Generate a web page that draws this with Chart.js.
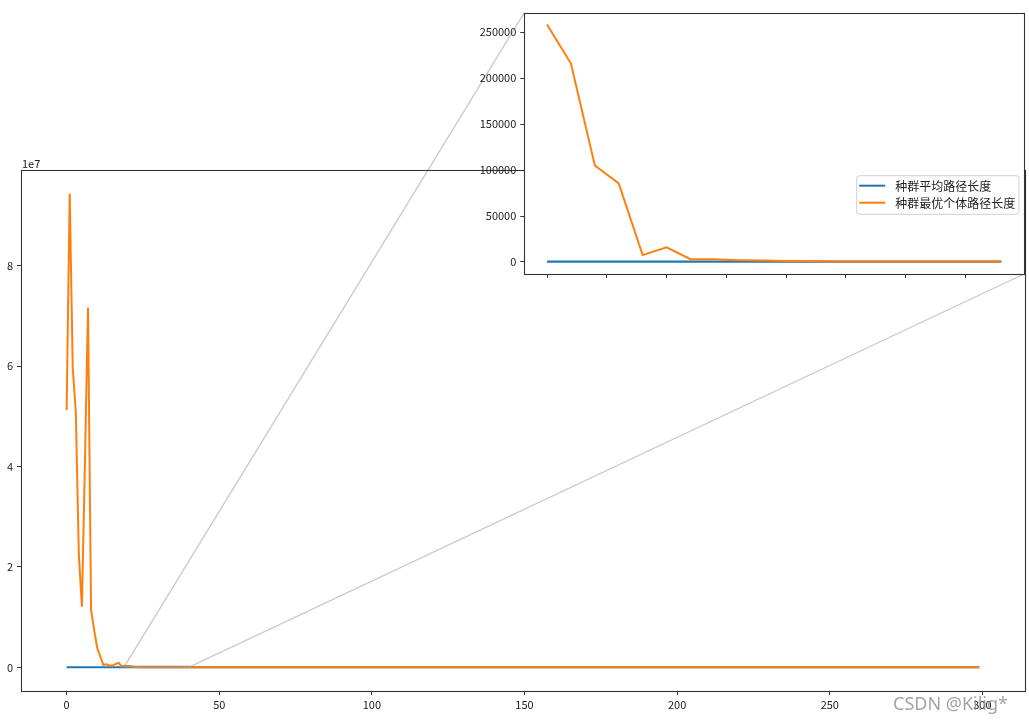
<!DOCTYPE html>
<html>
<head>
<meta charset="utf-8">
<script src="https://cdn.jsdelivr.net/npm/chart.js@4/dist/chart.umd.min.js"></script>
<style>
  html, body { margin: 0; padding: 0; background: #fff; }
  #wrap { position: relative; width: 1029px; height: 724px; overflow: hidden; }
  #mainCanvas { position: absolute; left: 0; top: 0; }
  #insetCanvas { position: absolute; left: 460px; top: 0; }
  #wm { position: absolute; left: 893px; top: 691px; font: 18px 'Noto Sans', 'DejaVu Sans', sans-serif; color: rgba(140,140,140,0.8); white-space: nowrap; }
</style>
</head>
<body>
<div id="wrap">
  <canvas id="mainCanvas" width="1029" height="724"></canvas>
  <canvas id="insetCanvas" width="569" height="300"></canvas>
  <div id="wm">CSDN @Kilig*</div>
</div>
<script>
// ---------------- data ----------------
const seriesNames = ['种群平均路径长度', '种群最优个体路径长度'];
// iteration numbers (the flat tail after 39 is drawn to the last iteration 299)
const iterations = [0,1,2,3,4,5,6,7,8,9,10,11,12,13,14,15,16,17,18,19,
                    20,21,22,23,24,25,26,27,28,29,30,31,32,33,34,35,36,37,38,39,299];
const avgLength = [350,350,350,350,350,350,350,350,350,350,350,350,350,350,350,350,350,350,350,350,
                   350,350,350,350,350,350,350,350,350,350,350,350,350,350,350,350,350,350,350,350,350];
const bestLength = [51300000,94400000,59600000,51000000,22400000,12100000,41000000,71700000,11500000,7500000,
                    3900000,2200000,500000,600000,420000,320000,650000,920000,200000,300000,
                    258500,216000,105000,85500,7500,16000,3000,3000,2000,1500,
                    1200,800,600,500,500,500,500,500,500,500,500];
// inset shows iterations 20..39
const insetFirst = 20, insetLast = 39;
const mainXTicks = [0,50,100,150,200,250,300];
const mainYTicks = [0,20000000,40000000,60000000,80000000];
const insetXTicks = [20,22.5,25,27.5,30,32.5,35,37.5];
const insetYTicks = [0,50000,100000,150000,200000,250000];

// ---------------- style ----------------
const BLUE = '#1f77b4', ORANGE = '#ff7f0e';
const TICK_FONT = { family: "'Noto Sans CJK SC', 'DejaVu Sans', sans-serif", size: 11 };
const TXT = '#222';
const SPINE = '#333';
const CONN = 'rgba(150,150,150,0.5)';
const insetOffset = { x: 460, y: 0 };
const zoomRect = { x0: 19.05, x1: 39.95, y0: -13060, y1: 271300 };

function pts(xs, ys, a, b) {
  const out = [];
  for (let i = 0; i < xs.length; i++) {
    if (xs[i] >= a && xs[i] <= b) out.push({ x: xs[i], y: ys[i] });
  }
  return out;
}
function spines(chart) {
  const ca = chart.chartArea, ctx = chart.ctx;
  ctx.save();
  ctx.strokeStyle = SPINE; ctx.lineWidth = 1.1;
  ctx.strokeRect(Math.round(ca.left) + 0.5, Math.round(ca.top) + 0.5,
                 Math.round(ca.right - ca.left), Math.round(ca.bottom - ca.top));
  ctx.restore();
}
function setTicks(list) { return axis => { axis.ticks = list.map(v => ({ value: v })); }; }

Chart.defaults.animation = false;
Chart.defaults.font.family = TICK_FONT.family;

// ---------------- inset ----------------
const insetChart = new Chart(document.getElementById('insetCanvas'), {
  type: 'line',
  data: {
    datasets: [
      { label: seriesNames[0], order: 2, data: pts(iterations, avgLength, insetFirst, insetLast), borderColor: BLUE, backgroundColor: BLUE, borderWidth: 2.2, pointRadius: 0, tension: 0 },
      { label: seriesNames[1], order: 1, data: pts(iterations, bestLength, insetFirst, insetLast), borderColor: ORANGE, backgroundColor: ORANGE, borderWidth: 2, pointRadius: 0, tension: 0 }
    ]
  },
  options: {
    responsive: false, animation: false,
    layout: { padding: { top: 12.7, right: 5, left: 0, bottom: 0 } },
    plugins: { legend: { display: false }, tooltip: { enabled: false } },
    scales: {
      x: { type: 'linear', min: zoomRect.x0, max: zoomRect.x1,
           afterBuildTicks: setTicks(insetXTicks),
           afterFit: a => { a.height = 26; },
           ticks: { callback: () => '', font: TICK_FONT, color: TXT },
           grid: { drawOnChartArea: false, tickLength: 4, tickColor: SPINE, tickWidth: 1 },
           border: { display: false } },
      y: { type: 'linear', min: zoomRect.y0, max: zoomRect.y1,
           afterBuildTicks: setTicks(insetYTicks),
           afterFit: a => { a.width = 64.3; },
           ticks: { callback: v => String(v), font: TICK_FONT, color: TXT, padding: 4 },
           grid: { drawOnChartArea: false, tickLength: 4, tickColor: SPINE, tickWidth: 1 },
           border: { display: false } }
    }
  },
  plugins: [{
    id: 'insetDeco',
    beforeDraw(chart) {
      const ca = chart.chartArea, ctx = chart.ctx;
      ctx.save(); ctx.fillStyle = '#fff';
      ctx.fillRect(ca.left, ca.top, ca.right - ca.left, ca.bottom - ca.top);
      ctx.restore();
    },
    afterDatasetsDraw(chart) {
      spines(chart);
      // legend
      const ctx = chart.ctx, ca = chart.chartArea;
      const w = 162.3, h = 38.6, r = 3;
      const x = ca.right - 5 - w, y = 175.7;
      ctx.save();
      ctx.beginPath();
      ctx.moveTo(x + r, y); ctx.lineTo(x + w - r, y); ctx.quadraticCurveTo(x + w, y, x + w, y + r);
      ctx.lineTo(x + w, y + h - r); ctx.quadraticCurveTo(x + w, y + h, x + w - r, y + h);
      ctx.lineTo(x + r, y + h); ctx.quadraticCurveTo(x, y + h, x, y + h - r);
      ctx.lineTo(x, y + r); ctx.quadraticCurveTo(x, y, x + r, y); ctx.closePath();
      ctx.fillStyle = 'rgba(255,255,255,0.85)'; ctx.fill();
      ctx.strokeStyle = '#d0d0d0'; ctx.lineWidth = 1; ctx.stroke();
      const rows = [y + 10, y + 27];
      const ordered = chart.data.datasets.slice().sort((a, b) => seriesNames.indexOf(a.label) - seriesNames.indexOf(b.label));
      ordered.forEach((ds, i) => {
        ctx.strokeStyle = ds.borderColor; ctx.lineWidth = 2;
        ctx.beginPath(); ctx.moveTo(x + 2.5, rows[i]); ctx.lineTo(x + 28.5, rows[i]); ctx.stroke();
        ctx.fillStyle = TXT; ctx.font = "12px 'Noto Sans CJK SC', sans-serif";
        ctx.textBaseline = 'middle'; ctx.textAlign = 'left';
        ctx.fillText(ds.label, x + 38.5, rows[i] + 0.5);
      });
      ctx.restore();
    }
  }]
});

// ---------------- main ----------------
const mainChart = new Chart(document.getElementById('mainCanvas'), {
  type: 'line',
  data: {
    datasets: [
      { label: seriesNames[0], order: 2, data: pts(iterations, avgLength, 0, 1e9), borderColor: BLUE, backgroundColor: BLUE, borderWidth: 2, pointRadius: 0, tension: 0 },
      { label: seriesNames[1], order: 1, data: pts(iterations, bestLength, 0, 1e9), borderColor: ORANGE, backgroundColor: ORANGE, borderWidth: 2, pointRadius: 0, tension: 0 }
    ]
  },
  options: {
    responsive: false, animation: false,
    layout: { padding: { top: 170, right: 4, left: 0, bottom: 0 } },
    plugins: { legend: { display: false }, tooltip: { enabled: false } },
    scales: {
      x: { type: 'linear', min: -14.95, max: 313.95,
           afterBuildTicks: setTicks(mainXTicks),
           afterFit: a => { a.height = 33; },
           ticks: { callback: v => String(v), font: TICK_FONT, color: TXT, padding: 3, maxRotation: 0, autoSkip: false },
           grid: { drawOnChartArea: false, tickLength: 4, tickColor: SPINE, tickWidth: 1 },
           border: { display: false } },
      y: { type: 'linear', min: -4720000, max: 99120000,
           afterBuildTicks: setTicks(mainYTicks),
           afterFit: a => { a.width = 21; },
           ticks: { callback: v => String(v / 1e7), font: TICK_FONT, color: TXT, padding: 4 },
           grid: { drawOnChartArea: false, tickLength: 4, tickColor: SPINE, tickWidth: 1 },
           border: { display: false } }
    }
  },
  plugins: [{
    id: 'mainDeco',
    afterDatasetsDraw(chart) {
      const ctx = chart.ctx, ca = chart.chartArea, xs = chart.scales.x, ys = chart.scales.y;
      // zoom rectangle
      const rx0 = xs.getPixelForValue(zoomRect.x0), rx1 = xs.getPixelForValue(zoomRect.x1);
      const ry0 = ys.getPixelForValue(zoomRect.y0), ry1 = ys.getPixelForValue(zoomRect.y1);
      ctx.save();
      ctx.strokeStyle = CONN; ctx.lineWidth = 1.3;
      ctx.strokeRect(rx0, ry1, rx1 - rx0, ry0 - ry1);
      // connectors to inset corners
      const ica = insetChart.chartArea;
      ctx.beginPath();
      ctx.moveTo(rx0, ry1); ctx.lineTo(insetOffset.x + ica.left, insetOffset.y + ica.top);
      ctx.moveTo(rx1, ry0); ctx.lineTo(insetOffset.x + ica.right, insetOffset.y + ica.bottom);
      ctx.stroke();
      ctx.restore();
      spines(chart);
      // offset text
      ctx.save();
      ctx.fillStyle = TXT; ctx.font = "11px 'Noto Sans CJK SC', sans-serif";
      ctx.textAlign = 'left'; ctx.textBaseline = 'bottom';
      ctx.fillText('1e7', ca.left + 1, ca.top - 1);
      ctx.restore();
    }
  }]
});
</script>
</body>
</html>
